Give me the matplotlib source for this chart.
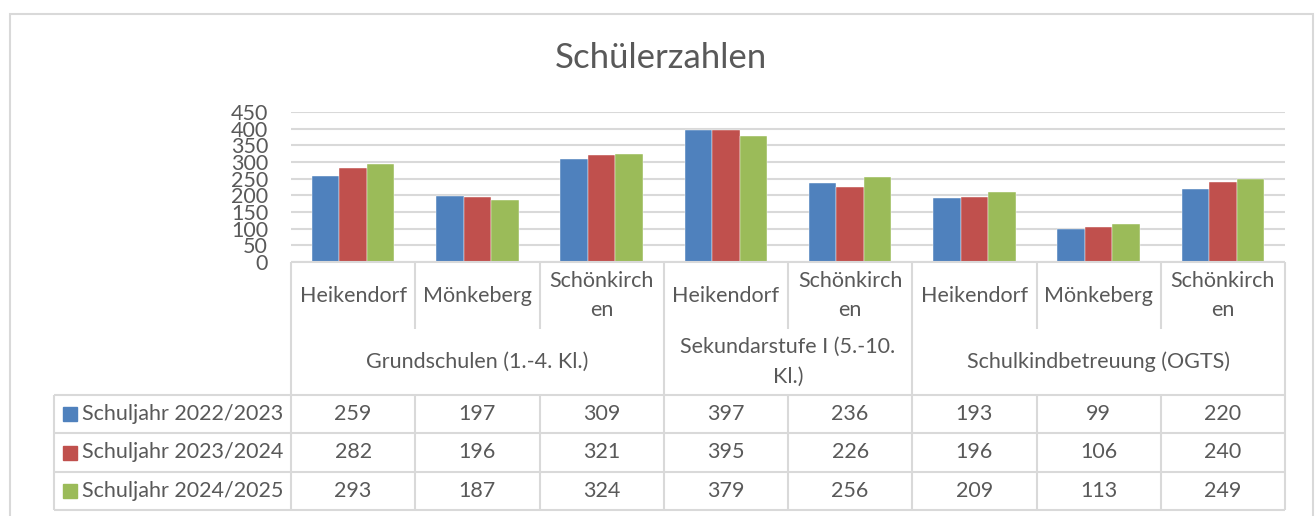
import numpy as np
import matplotlib.pyplot as plt
from matplotlib.patches import Rectangle

# data
categories = ["Heikendorf", "Mönkeberg", "Schönkirch\nen",
              "Heikendorf", "Schönkirch\nen",
              "Heikendorf", "Mönkeberg", "Schönkirch\nen"]
groups = ["Grundschulen (1.-4. Kl.)", "Sekundarstufe I (5.-10.\nKl.)", "Schulkindbetreuung (OGTS)"]
group_sizes = [3, 2, 3]
series_names = ["Schuljahr 2022/2023", "Schuljahr 2023/2024", "Schuljahr 2024/2025"]
s2022 = [259, 197, 309, 397, 236, 193, 99, 220]
s2023 = [282, 196, 321, 395, 226, 196, 106, 240]
s2024 = [293, 187, 324, 379, 256, 209, 113, 249]
colors = ["#4F81BD", "#C0504D", "#9BBB59"]
yticks = list(range(0, 451, 50))

plt.rcParams['font.family'] = ['Lato', 'DejaVu Sans']
txt = "#595959"
grid = "#D9D9D9"
fs = 15.5
W, H = 1316, 516

fig = plt.figure(figsize=(W / 100, H / 100), dpi=100)

# outer chart frame
fig.patches.append(Rectangle((10 / W, -0.1), (1313 - 10) / W, 1.1 - 14 / H,
                             transform=fig.transFigure, fill=False,
                             edgecolor=grid, lw=1.5, clip_on=False))
fig.text(661 / W, 1 - 58 / H, "Schülerzahlen", ha="center", va="center",
         fontsize=25, color=txt)

# bar area
ax = fig.add_axes([291 / W, 1 - 262 / H, (1285 - 291) / W, 150 / H])
x = np.arange(len(categories))
bw = 0.2213
for k, vals in enumerate([s2022, s2023, s2024]):
    ax.bar(x + (k - 1) * bw, vals, bw, color=colors[k], edgecolor="white",
           linewidth=0.3, zorder=2)
ax.set_xlim(-0.5, len(categories) - 0.5)
ax.set_ylim(0, 450)
ax.set_yticks(yticks)
ax.set_xticks([])
ax.tick_params(axis="y", length=0, pad=16.5, labelsize=fs, labelcolor=txt)
ax.yaxis.grid(True, color=grid, lw=1.5)
ax.set_axisbelow(True)
for s in ax.spines.values():
    s.set_visible(False)

# data table below the bars
cw = (1285 - 291) / len(categories)   # px per category
xl = -0.5 - (291 - 54) / cw
tab = fig.add_axes([54 / W, 0, (1285 - 54) / W, 1 - 262 / H])
tab.set_xlim(xl, len(categories) - 0.5)
tab.set_ylim(254, 0)
tab.axis("off")
r_cat, r_grp = 67, 133
rows = [133, 171, 210, 248]
lk = dict(color=grid, lw=1.5, clip_on=False)
xr = len(categories) - 0.5
tab.hlines(0, -0.5, xr, **lk)
tab.hlines(rows, xl, xr, **lk)
tab.vlines([-0.5, xr], 0, rows[-1], **lk)
tab.vlines(xl, rows[0], rows[-1], **lk)
bounds = np.cumsum(group_sizes)[:-1]
for b in range(1, len(categories)):
    if b in bounds:
        tab.vlines(b - 0.5, 0, rows[-1], **lk)
    else:
        tab.vlines(b - 0.5, 0, r_cat, **lk)
        tab.vlines(b - 0.5, rows[0], rows[-1], **lk)

for i, c in enumerate(categories):
    tab.text(i, r_cat / 2, c, ha="center", va="center", fontsize=fs,
             color=txt, linespacing=1.6)
start = 0
for g, n in zip(groups, group_sizes):
    tab.text(start + (n - 1) / 2, (r_cat + r_grp) / 2, g, ha="center",
             va="center", fontsize=fs, color=txt, linespacing=1.6)
    start += n

px = lambda p: -0.5 + (p - 291) / cw
for k, (name, vals) in enumerate(zip(series_names, [s2022, s2023, s2024])):
    yc = (rows[k] + rows[k + 1]) / 2
    tab.add_patch(Rectangle((px(63), yc - 7), 14 / cw, 14, color=colors[k]))
    tab.text(px(82), yc, name, ha="left", va="center", fontsize=fs, color=txt)
    for i, v in enumerate(vals):
        tab.text(i, yc, str(v), ha="center", va="center", fontsize=fs, color=txt)

fig.savefig("out.png", dpi=100)
